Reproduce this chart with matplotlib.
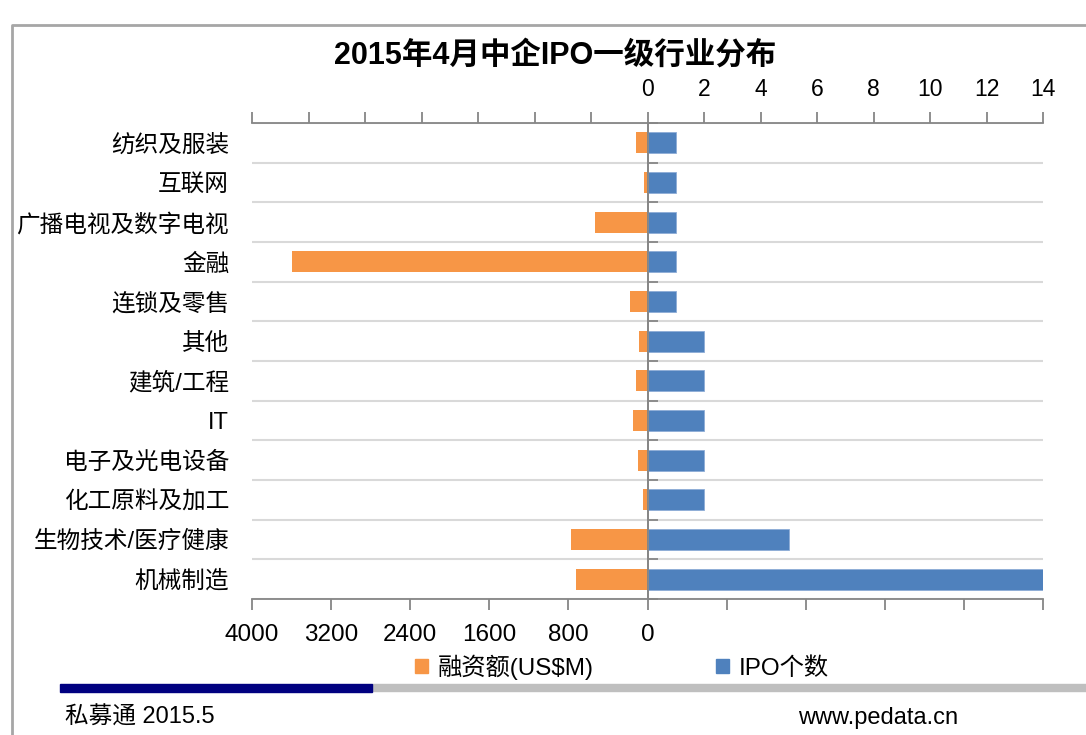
import numpy as np
import matplotlib
matplotlib.use('Agg')
import matplotlib.pyplot as plt
from matplotlib.patches import Patch, Rectangle
from matplotlib.lines import Line2D

# data
categories = ['纺织及服装', '互联网', '广播电视及数字电视', '金融', '连锁及零售', '其他',
              '建筑/工程', 'IT', '电子及光电设备', '化工原料及加工', '生物技术/医疗健康', '机械制造']
amount_usdm = [120, 40, 528, 3600, 178, 91, 118, 148, 101, 47, 778, 727]
ipo_count = [1, 1, 1, 1, 1, 2, 2, 2, 2, 2, 5, 14]

amount_ticks = np.arange(-4000, 4001, 800)
count_ticks = np.arange(-14, 15, 2)

title = '2015年4月中企IPO一级行业分布'
orange = '#F79646'
blue = '#4F81BD'
axis_gray = '#868686'
grid_gray = '#D9D9D9'

cjk = ['Liberation Sans', 'Noto Sans CJK SC', 'DejaVu Sans']
narrow = ['Liberation Sans Narrow', 'Liberation Sans', 'DejaVu Sans']
plt.rcParams['font.family'] = cjk

fig = plt.figure(figsize=(10.86, 7.35), dpi=100)
ax1 = fig.add_axes([252 / 1086, 1 - 599 / 735, (1043 - 252) / 1086, (599 - 123) / 735])
ax2 = ax1.twiny()

y = np.arange(len(categories))
ax1.barh(y, amount_usdm, height=0.53, color=orange, zorder=2)
ax2.barh(y, ipo_count, height=0.53, color=blue, edgecolor='#8EACD6', linewidth=0.6, zorder=2)

ax1.set_xlim(4000, -4000)
ax2.set_xlim(-14, 14)
ax1.set_ylim(len(categories) - 0.5, -0.5)

# bottom axis: amount, labels only on the left half
ax1.set_xticks(amount_ticks)
ax1.set_xticklabels([str(t) if t >= 0 else '' for t in amount_ticks],
                    fontsize=17.5, family='Liberation Sans')
ax1.tick_params(axis='x', direction='out', length=8, width=1.3, color=axis_gray, pad=10)

# top axis: IPO count, labels only on the right half
ax2.set_xticks(count_ticks)
ax2.set_xticklabels([str(t) if t >= 0 else '' for t in count_ticks],
                    fontsize=16.5, family=narrow)
ax2.tick_params(axis='x', direction='out', length=8, width=1.3, color=axis_gray, pad=8)

# categories on the left, separator ticks on a spine at zero
ax1.set_yticks(y, labels=categories)
ax1.set_yticks(np.arange(len(categories) + 1) - 0.5, minor=True)
ax1.tick_params(axis='y', which='major', left=False, right=False, labelleft=True,
                labelsize=17, pad=13)
ax1.tick_params(axis='y', which='minor', left=False, right=True, direction='out',
                length=7, width=1.3, color=axis_gray)
ax1.spines['right'].set_position(('data', 0))
ax1.spines['right'].set_color(axis_gray)
ax1.spines['right'].set_linewidth(1.3)
ax1.grid(axis='y', which='minor', color=grid_gray, linewidth=1.5, zorder=0)
ax1.set_axisbelow(True)

for s in ['left', 'top']:
    ax1.spines[s].set_visible(False)
ax1.spines['bottom'].set_color(axis_gray)
ax1.spines['bottom'].set_linewidth(1.3)
for s in ['left', 'right', 'bottom']:
    ax2.spines[s].set_visible(False)
ax2.spines['top'].set_color(axis_gray)
ax2.spines['top'].set_linewidth(1.3)
ax2.axvline(0, color=axis_gray, linewidth=1.3, zorder=3)

fig.text(555 / 1086, 1 - 56 / 735, title, ha='center', va='center',
         fontsize=22, fontweight='bold', family=cjk)

handles = [Patch(color=orange, label='融资额(US$M)'), Patch(color=blue, label='IPO个数')]
fig.legend(handles=handles, loc='center', bbox_to_anchor=(622 / 1086, 1 - 667 / 735),
           ncol=2, frameon=False, fontsize=17.5, handlelength=0.55, handleheight=0.55,
           handletextpad=0.4, columnspacing=5.0)

# slide frame and footer
fig.add_artist(Line2D([12 / 1086, 12 / 1086, 1], [0, 1 - 25 / 735, 1 - 25 / 735],
                      color='#A6A6A6', linewidth=2, transform=fig.transFigure))
fig.add_artist(Rectangle((372 / 1086, 1 - 691 / 735), 1 - 372 / 1086, 7 / 735,
                         color='#BFBFBF', transform=fig.transFigure))
fig.add_artist(Rectangle((60 / 1086, 1 - 692 / 735), (372 - 60) / 1086, 8 / 735,
                         color='#000080', transform=fig.transFigure))
fig.text(65 / 1086, 1 - 718 / 735, '私募通 2015.5', ha='left', va='center', fontsize=17)
fig.text(958 / 1086, 1 - 718 / 735, 'www.pedata.cn', ha='right', va='center', fontsize=17)

fig.savefig('out.png', dpi=100)
